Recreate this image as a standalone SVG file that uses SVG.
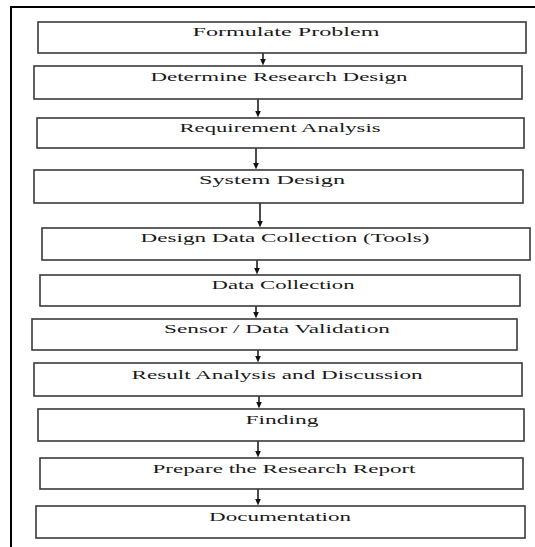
<svg xmlns="http://www.w3.org/2000/svg" width="535" height="547" viewBox="0 0 535 547">
<defs>
<marker id="ah" markerWidth="7" markerHeight="7" refX="3.5" refY="3.5" orient="auto" markerUnits="userSpaceOnUse">
<path d="M0,0.5 L7,3.5 L0,6.5 Z" fill="#111"/>
</marker>
<style>
.box{fill:#fff;stroke:#3a3a3a;stroke-width:1.6}
.lbl{font-family:"Liberation Serif","Times New Roman",serif;font-size:13px;fill:#1a1a1a;text-anchor:middle}
.con{stroke:#111;stroke-width:1.5;fill:none;marker-end:url(#ah)}
.frame{stroke:#000;stroke-width:2;fill:none}
</style>
</defs>
<rect width="535" height="547" fill="#fff"/>
<path class="frame" d="M11,547 V7 H535"/>
<g id="connectors">
<line class="con" x1="263" y1="53" x2="263" y2="62"/>
<line class="con" x1="258" y1="99" x2="258" y2="114"/>
<line class="con" x1="256" y1="148" x2="256" y2="166"/>
<line class="con" x1="260" y1="203" x2="260" y2="224"/>
<line class="con" x1="257" y1="260" x2="257" y2="271"/>
<line class="con" x1="256" y1="306" x2="256" y2="315"/>
<line class="con" x1="258" y1="350" x2="258" y2="359"/>
<line class="con" x1="259" y1="396" x2="259" y2="405"/>
<line class="con" x1="258" y1="441" x2="258" y2="454"/>
<line class="con" x1="258" y1="489" x2="258" y2="502"/>
</g>
<g id="n1"><rect class="box" x="38" y="22" width="488" height="31"/><text class="lbl" transform="translate(286,36) scale(1.75,1)" textLength="106.9" lengthAdjust="spacingAndGlyphs">Formulate Problem</text></g>
<g id="n2"><rect class="box" x="34" y="66" width="488" height="33"/><text class="lbl" transform="translate(279,81) scale(1.75,1)" textLength="146.9" lengthAdjust="spacingAndGlyphs">Determine Research Design</text></g>
<g id="n3"><rect class="box" x="37" y="118" width="487" height="30"/><text class="lbl" transform="translate(280,132) scale(1.75,1)" textLength="114.9" lengthAdjust="spacingAndGlyphs">Requirement Analysis</text></g>
<g id="n4"><rect class="box" x="34" y="170" width="489" height="33"/><text class="lbl" transform="translate(272,184) scale(1.75,1)" textLength="83.4" lengthAdjust="spacingAndGlyphs">System Design</text></g>
<g id="n5"><rect class="box" x="42" y="228" width="488" height="32"/><text class="lbl" transform="translate(285,242) scale(1.75,1)" textLength="165.1" lengthAdjust="spacingAndGlyphs">Design Data Collection (Tools)</text></g>
<g id="n6"><rect class="box" x="40" y="275" width="480" height="31"/><text class="lbl" transform="translate(283,289) scale(1.75,1)" textLength="81.7" lengthAdjust="spacingAndGlyphs">Data Collection</text></g>
<g id="n7"><rect class="box" x="32" y="319" width="485" height="31"/><text class="lbl" transform="translate(277,333) scale(1.75,1)" textLength="129.1" lengthAdjust="spacingAndGlyphs">Sensor / Data Validation</text></g>
<g id="n8"><rect class="box" x="34" y="363" width="488" height="33"/><text class="lbl" transform="translate(277,379) scale(1.75,1)" textLength="166.3" lengthAdjust="spacingAndGlyphs">Result Analysis and Discussion</text></g>
<g id="n9"><rect class="box" x="38" y="409" width="486" height="32"/><text class="lbl" transform="translate(282,424) scale(1.75,1)" textLength="41.7" lengthAdjust="spacingAndGlyphs">Finding</text></g>
<g id="n10"><rect class="box" x="40" y="458" width="483" height="31"/><text class="lbl" transform="translate(284,473) scale(1.75,1)" textLength="150.3" lengthAdjust="spacingAndGlyphs">Prepare the Research Report</text></g>
<g id="n11"><rect class="box" x="36" y="506" width="489" height="32"/><text class="lbl" transform="translate(280,521) scale(1.75,1)" textLength="81.1" lengthAdjust="spacingAndGlyphs">Documentation</text></g>
</svg>
